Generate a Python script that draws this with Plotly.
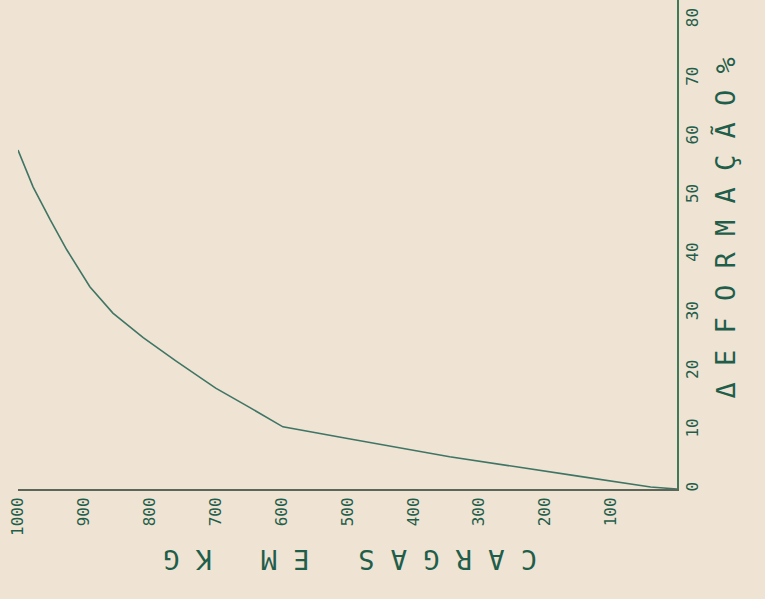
import plotly.graph_objects as go

# Data read from the (rotated) scanned chart
carga_kg = [0, 40, 150, 345, 500, 598, 650, 700, 760, 810, 856, 891, 926, 951, 977, 1000]
deformacao_pct = [0, 0.35, 2.2, 5.5, 8.6, 10.6, 14.0, 17.2, 21.8, 25.8, 30.0, 34.5, 40.8, 45.9, 51.5, 57.8]

x_ticks = [100, 200, 300, 400, 500, 600, 700, 800, 900, 1000]
x_ticktext = ["100", "200", "300", "400", "500", "600", "700", "800", "900", "1000"]
y_ticks = [0, 10, 20, 30, 40, 50, 60, 70, 80]
y_ticktext = ["0", "10", "20", "30", "40", "50", "60", "70", "80"]

title_x = "C A R G A S   E M   K G"
title_y = "Δ E F O R M A Ç Ã O %"

BG = "#efe3d3"
INK = "#1f5e4a"
CURVE = "#3f7565"

fig = go.Figure()
fig.add_trace(go.Scatter(
    x=carga_kg, y=deformacao_pct, mode="lines",
    line=dict(color=CURVE, width=1.6), showlegend=False, hoverinfo="skip",
))

fig.update_layout(
    width=765, height=599,
    paper_bgcolor=BG, plot_bgcolor=BG,
    margin=dict(l=18, r=88, t=0, b=110),
    font=dict(family="DejaVu Sans Mono", color=INK, size=16),
    xaxis=dict(
        range=[1000, 0], showgrid=False, zeroline=False,
        showline=True, linecolor="#5b6558", linewidth=2,
        tickmode="array", tickvals=x_ticks, ticktext=x_ticktext,
        tickangle=-90, ticks="", tickfont=dict(size=16, color=INK),
    ),
    yaxis=dict(
        range=[0, 83.4], side="right", showgrid=False, zeroline=False,
        showline=True, linecolor="#3e7a55", linewidth=2,
        tickmode="array", tickvals=y_ticks, ticktext=y_ticktext,
        tickangle=-90, ticks="", tickfont=dict(size=16, color=INK),
    ),
    annotations=[
        dict(text=title_x, xref="paper", yref="paper",
             x=(350 - 18) / 659, y=-(577 - 489) / 489,
             showarrow=False, textangle=180,
             font=dict(size=27, color=INK, family="DejaVu Sans Mono")),
        dict(text=title_y, xref="paper", yref="paper",
             x=(742 - 18) / 659, y=(489 - 228) / 489,
             showarrow=False, textangle=-90,
             font=dict(size=27, color=INK, family="DejaVu Sans Mono")),
    ],
)

fig.write_html(
    "out.html",
    config={"displayModeBar": False},
    post_script="document.body.style.margin='0';document.body.style.overflow='hidden';",
)
